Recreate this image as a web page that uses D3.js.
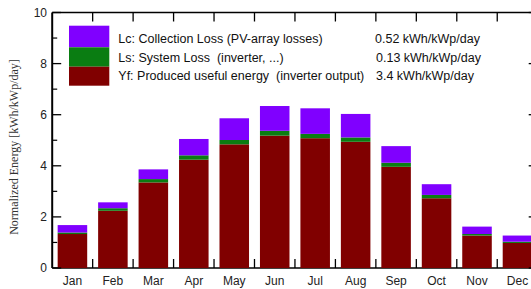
<!DOCTYPE html>
<html><head><meta charset="utf-8">
<script src="https://cdn.jsdelivr.net/npm/d3@7"></script>
<style>body{margin:0;background:#fff}svg{display:block}</style>
</head><body>
<svg id="c" width="531" height="289"></svg>
<script>
const months = ["Jan","Feb","Mar","Apr","May","Jun","Jul","Aug","Sep","Oct","Nov","Dec"];
const yf = [1.33,2.24,3.35,4.24,4.84,5.18,5.08,4.94,3.96,2.73,1.27,0.98];
const ls = [0.06,0.10,0.13,0.17,0.17,0.19,0.17,0.17,0.16,0.13,0.06,0.05];
const lc = [0.29,0.23,0.38,0.64,0.85,0.97,1.00,0.92,0.65,0.42,0.29,0.24];
const yTicks = [0,2,4,6,8,10];
const yMinor = [1,3,5,7,9];
const legendLabels = ["Lc: Collection Loss (PV-array losses)","Ls: System Loss  (inverter, ...)","Yf: Produced useful energy  (inverter output)"];
const legendValues = ["0.52 kWh/kWp/day","0.13 kWh/kWp/day","3.4 kWh/kWp/day"];
const yTitle = "Normalized Energy [kWh/kWp/day]";
const colors = {yf:"#800000", ls:"#0a7d12", lc:"#8000ff"};

const svg = d3.select("#c");
const L = 52.2, R = 537.7, T = 12.5, B = 268;
const x = d3.scaleBand().domain(months).range([L,R]).paddingInner(0.27).paddingOuter(0.135);
const y = d3.scaleLinear().domain([0,10]).range([B,T]);
const step = x.step();
const bounds = d3.range(13).map(i => L + i*step);
const font = "'Liberation Sans', Arial, sans-serif";

// bottom axis line (under bars)
svg.append("line").attr("x1",L).attr("x2",R).attr("y1",B).attr("y2",B).attr("stroke","#000").attr("stroke-width",1.5);

const rows = months.map((m,i)=>({m, yf:yf[i], ls:ls[i], lc:lc[i]}));
const stack = d3.stack().keys(["yf","ls","lc"])(rows);
svg.append("g").selectAll("g").data(stack).join("g").attr("fill",d=>colors[d.key])
  .selectAll("rect").data(d=>d).join("rect")
  .attr("x",d=>x(d.data.m)).attr("width",x.bandwidth())
  .attr("y",d=>y(d[1])).attr("height",d=>y(d[0])-y(d[1]));

// frame
const ax = svg.append("g").attr("stroke","#000");
ax.append("line").attr("x1",L).attr("x2",L).attr("y1",T).attr("y2",B).attr("stroke-width",2);
ax.append("line").attr("x1",L).attr("x2",R).attr("y1",T).attr("y2",T).attr("stroke-width",1.5);
ax.append("line").attr("x1",R).attr("x2",R).attr("y1",T).attr("y2",B).attr("stroke-width",1.5);
// boundary ticks top & bottom
bounds.slice(1,12).forEach(bx=>{
  ax.append("line").attr("x1",bx).attr("x2",bx).attr("y1",T).attr("y2",T+9).attr("stroke-width",1.3);
  ax.append("line").attr("x1",bx).attr("x2",bx).attr("y1",B).attr("y2",B-9).attr("stroke-width",1.3);
});
// y ticks
yTicks.forEach(v=>{
  ax.append("line").attr("x1",L).attr("x2",L+9).attr("y1",y(v)).attr("y2",y(v)).attr("stroke-width",1.3);
  ax.append("line").attr("x1",R).attr("x2",R-9).attr("y1",y(v)).attr("y2",y(v)).attr("stroke-width",1.3);
});
yMinor.forEach(v=>{
  ax.append("line").attr("x1",L).attr("x2",L+5).attr("y1",y(v)).attr("y2",y(v)).attr("stroke-width",1.2);
  ax.append("line").attr("x1",R).attr("x2",R-5).attr("y1",y(v)).attr("y2",y(v)).attr("stroke-width",1.2);
});
// y labels
svg.append("g").selectAll("text").data(yTicks).join("text")
  .attr("x",47).attr("y",d=>y(d)+4.3).attr("text-anchor","end")
  .attr("font-family",font).attr("font-size",12).attr("fill","#222").text(d=>d);
// x labels
svg.append("g").selectAll("text").data(months).join("text")
  .attr("x",d=>x(d)+x.bandwidth()/2).attr("y",285).attr("text-anchor","middle")
  .attr("font-family",font).attr("font-size",12).attr("fill","#222").text(d=>d);
// y title
svg.append("text").attr("transform","translate(18,147) rotate(-90)").attr("text-anchor","middle")
  .attr("font-family","'Liberation Serif', 'Times New Roman', serif").attr("font-size",12).attr("fill","#333").text(yTitle);

// legend
const lg = svg.append("g");
const legKeys = ["lc","ls","yf"];
const legY = [25.7,47.3,66.7,85.7];
legKeys.forEach((k,i)=>{
  lg.append("rect").attr("x",69).attr("y",legY[i]).attr("width",40.3).attr("height",legY[i+1]-legY[i]).attr("fill",colors[k]);
});
const baseY = [42.5,61.5,80.3];
lg.selectAll("text.l").data(legendLabels).join("text").attr("class","l")
  .attr("x",118.3).attr("y",(d,i)=>baseY[i]).attr("font-family",font).attr("font-size",12.5).attr("fill","#111")
  .attr("xml:space","preserve").style("white-space","pre").text(d=>d);
const valX = [375,376,376];
lg.selectAll("text.v").data(legendValues).join("text").attr("class","v")
  .attr("x",(d,i)=>valX[i]).attr("y",(d,i)=>baseY[i]).attr("font-family",font).attr("font-size",12.5).attr("fill","#111").text(d=>d);
</script>
</body></html>
